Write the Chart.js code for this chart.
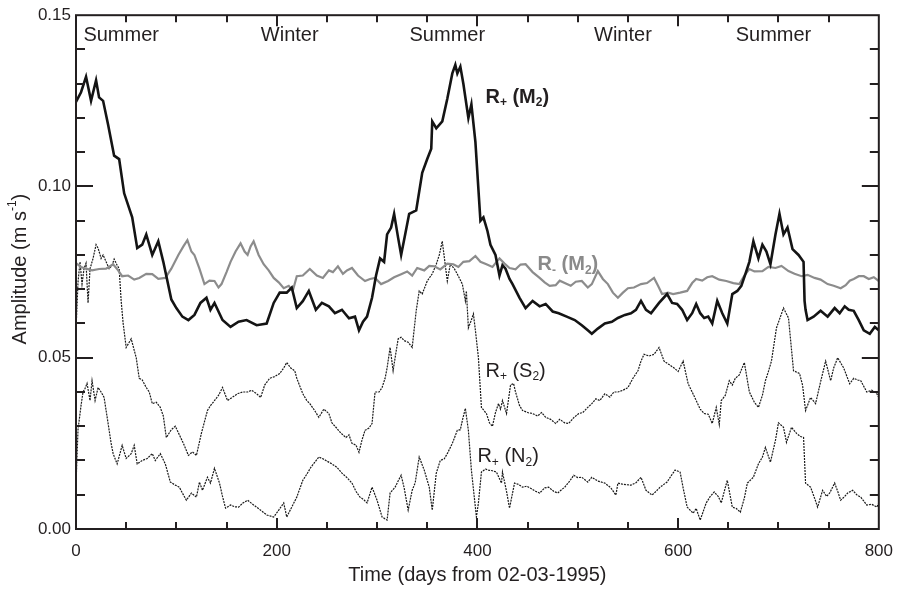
<!DOCTYPE html>
<html>
<head>
<meta charset="utf-8">
<script src="https://cdn.jsdelivr.net/npm/chart.js@4.4.0/dist/chart.umd.min.js"></script>
<style>
  html, body { margin: 0; padding: 0; background: #fff; overflow: hidden; }
  #wrap { width: 905px; height: 589px; }
  #amplitudeChart { display: block; }
</style>
</head>
<body>
<div id="wrap"><canvas id="amplitudeChart"></canvas></div>
<script>
// R+ (M2), thick black
const m2pDays = [0,5,10,15,20,23,27,32,38,43,48,56,61,66,70,76,82,87,95,100,106,112,118,124,130,134,138,146,154,162,170,180,190,197,203,210,215,220,226,232,239,245,252,258,265,272,278,282,286,290,295,299,303,307,310,314,317,321,324,328,332,339,345,350,354,355,359,365,370,375,378,380,383,386,391,394,398,403,406,410,413,418,422,425,428,432,435,442,448,455,462,468,475,481,489,497,504,510,514,520,527,534,540,547,553,558,563,568,573,581,589,594,599,604,609,614,618,622,626,630,634,639,644,649,654,659,663,667,671,675,680,684,688,692,697,701,705,709,714,720,725,726,727,729,735,742,749,756,761,766,770,775,780,785,791,796,800];
const m2pAmp = [0.1247,0.1275,0.132,0.125,0.131,0.126,0.125,0.118,0.109,0.108,0.098,0.091,0.082,0.083,0.086,0.080,0.084,0.078,0.067,0.0645,0.062,0.061,0.0625,0.066,0.0675,0.064,0.066,0.061,0.059,0.0605,0.061,0.0595,0.060,0.066,0.069,0.069,0.0705,0.0645,0.0665,0.0695,0.064,0.066,0.065,0.063,0.064,0.0615,0.062,0.058,0.0605,0.062,0.0675,0.074,0.079,0.078,0.086,0.088,0.092,0.085,0.080,0.086,0.092,0.093,0.104,0.108,0.111,0.119,0.117,0.119,0.1256,0.133,0.1355,0.133,0.135,0.130,0.120,0.124,0.113,0.090,0.091,0.087,0.083,0.080,0.074,0.077,0.076,0.073,0.0715,0.0675,0.0645,0.0666,0.065,0.0657,0.0635,0.063,0.062,0.061,0.0595,0.058,0.057,0.0585,0.060,0.0605,0.0616,0.0625,0.063,0.064,0.0666,0.064,0.063,0.066,0.0686,0.066,0.0657,0.064,0.061,0.063,0.0657,0.063,0.0616,0.062,0.060,0.0666,0.063,0.060,0.0686,0.0695,0.071,0.0744,0.078,0.084,0.079,0.083,0.081,0.0773,0.086,0.092,0.086,0.088,0.0817,0.080,0.078,0.0666,0.064,0.061,0.062,0.0637,0.062,0.0645,0.063,0.065,0.064,0.0637,0.061,0.058,0.057,0.059,0.058];

// R- (M2), grey
const m2mDays = [0,5,10,16,23,30,37,42,46,52,58,63,70,76,82,89,95,102,107,111,115,118,123,128,133,138,142,145,150,154,159,164,168,171,174,177,182,187,192,197,202,207,212,216,220,226,233,240,246,252,256,261,266,270,275,281,288,293,298,304,311,317,324,330,335,340,347,352,357,363,370,376,381,386,392,398,403,409,415,422,427,432,438,443,448,455,462,467,472,478,482,487,493,498,504,510,514,520,525,530,535,540,545,550,556,563,569,576,580,584,590,595,602,609,614,618,624,629,634,641,648,655,661,666,671,676,684,690,697,703,710,716,723,729,736,742,749,755,762,767,771,775,780,785,790,795,800];
const m2mAmp = [0.0776,0.0765,0.076,0.0755,0.0759,0.076,0.0773,0.0755,0.0738,0.074,0.0728,0.0733,0.0745,0.0744,0.073,0.0733,0.076,0.080,0.0825,0.0843,0.081,0.080,0.076,0.0715,0.0725,0.0724,0.0705,0.0715,0.075,0.078,0.081,0.0834,0.081,0.080,0.0825,0.084,0.080,0.0773,0.0755,0.0733,0.072,0.0703,0.071,0.0695,0.0738,0.074,0.0759,0.074,0.0733,0.0755,0.075,0.0767,0.0745,0.0755,0.0762,0.074,0.0724,0.073,0.0733,0.0715,0.0724,0.0735,0.0744,0.0752,0.074,0.0762,0.0755,0.0768,0.0767,0.0758,0.0775,0.0773,0.0765,0.078,0.0782,0.0797,0.078,0.0773,0.0765,0.079,0.0775,0.0762,0.0758,0.0772,0.0773,0.075,0.0733,0.072,0.071,0.0712,0.0725,0.0718,0.071,0.0722,0.0724,0.0705,0.0715,0.0753,0.073,0.0715,0.069,0.0675,0.069,0.0703,0.0705,0.0715,0.0718,0.0733,0.071,0.0686,0.069,0.0686,0.069,0.0695,0.0718,0.073,0.0725,0.0735,0.0738,0.0728,0.0724,0.0718,0.0715,0.074,0.0759,0.0752,0.0753,0.0765,0.0762,0.0768,0.0753,0.0745,0.0738,0.0742,0.0733,0.0728,0.0715,0.071,0.0703,0.0712,0.0725,0.073,0.0738,0.0738,0.073,0.0735,0.0724];

// R+ (S2), dotted
const s2Days = [0,2,4,6,8,10,12,14,17,20,22,25,27,30,33,36,38,41,43,45,47,50,55,60,63,66,70,73,76,80,84,87,90,95,99,103,107,112,116,120,125,131,134,138,142,146,151,156,161,166,171,175,180,184,188,193,198,203,207,210,214,218,220,226,230,233,238,242,247,252,255,259,264,269,272,275,279,282,285,288,292,295,298,302,305,308,310,313,316,318,321,324,327,331,335,339,342,345,350,355,359,362,365,368,370,373,377,380,385,388,389,391,394,396,398,401,404,409,412,415,418,421,423,425,429,433,436,438,442,445,450,455,460,464,468,473,478,482,487,491,496,501,505,510,514,518,522,527,532,536,540,545,550,555,560,563,566,571,576,581,586,591,596,600,605,610,614,618,622,626,630,634,638,641,643,647,651,654,657,661,666,671,676,680,684,687,690,693,698,702,705,710,715,721,724,727,732,737,742,747,752,755,759,765,771,775,779,782,788,793,798,800];
const s2Amp = [0.058,0.072,0.078,0.0715,0.076,0.0776,0.066,0.076,0.079,0.083,0.082,0.079,0.080,0.078,0.076,0.077,0.0788,0.077,0.076,0.0666,0.060,0.053,0.0555,0.050,0.044,0.0435,0.0413,0.040,0.0366,0.037,0.0355,0.033,0.0267,0.029,0.030,0.0275,0.025,0.0215,0.0225,0.0215,0.028,0.0346,0.036,0.0375,0.039,0.0413,0.0375,0.0385,0.0395,0.040,0.040,0.0405,0.0395,0.0384,0.042,0.044,0.0445,0.0454,0.047,0.0486,0.047,0.0462,0.044,0.0395,0.0375,0.0366,0.0345,0.0326,0.035,0.0337,0.031,0.0297,0.028,0.0267,0.0275,0.025,0.0245,0.0224,0.026,0.0288,0.0295,0.0308,0.040,0.040,0.0413,0.044,0.047,0.053,0.0462,0.050,0.0555,0.056,0.055,0.0545,0.053,0.0637,0.0695,0.0686,0.0724,0.0745,0.0773,0.080,0.084,0.077,0.0724,0.0773,0.076,0.0744,0.0715,0.0666,0.0695,0.0587,0.061,0.0628,0.058,0.050,0.0355,0.0337,0.031,0.030,0.034,0.0366,0.035,0.0375,0.0337,0.042,0.0425,0.040,0.036,0.0346,0.034,0.0337,0.033,0.034,0.0326,0.032,0.0308,0.032,0.031,0.0308,0.0325,0.0337,0.034,0.0355,0.0366,0.038,0.0375,0.0395,0.0385,0.040,0.040,0.0405,0.0413,0.044,0.0462,0.049,0.051,0.0505,0.051,0.053,0.049,0.048,0.047,0.046,0.049,0.0424,0.040,0.0375,0.035,0.0337,0.0335,0.0308,0.0355,0.0305,0.0375,0.039,0.0433,0.042,0.044,0.045,0.0486,0.040,0.037,0.0355,0.039,0.0433,0.046,0.049,0.0587,0.062,0.0645,0.0616,0.0462,0.0454,0.042,0.0346,0.0384,0.0366,0.043,0.049,0.0433,0.047,0.050,0.047,0.0424,0.044,0.0435,0.0433,0.040,0.0405,0.0395,0.0384];

// R+ (N2), dotted
const n2Days = [0,2,5,7,9,11,14,16,19,22,25,28,32,35,37,41,46,50,55,58,61,66,71,76,79,84,89,94,99,103,106,110,115,120,123,126,131,134,138,143,146,149,154,158,162,166,171,177,184,190,197,202,207,210,215,220,226,230,234,238,242,246,249,255,260,265,270,275,279,283,287,290,295,300,305,310,313,318,321,324,327,331,335,338,342,347,352,355,359,363,367,370,375,380,383,385,388,391,394,397,399,401,404,408,411,415,419,424,425,429,432,437,441,445,449,453,458,462,467,471,476,480,484,487,492,496,500,504,510,514,520,527,533,538,540,546,553,558,563,568,574,578,582,589,593,597,602,605,609,615,618,622,628,632,636,640,643,646,649,654,658,662,666,669,675,680,684,687,692,697,700,705,708,713,718,722,725,727,732,736,739,744,748,751,756,759,762,766,769,774,778,782,788,793,798,800];
const n2Amp = [0.013,0.029,0.036,0.040,0.041,0.0425,0.0375,0.0433,0.0375,0.0413,0.040,0.0384,0.0308,0.025,0.022,0.019,0.0244,0.0206,0.022,0.0244,0.019,0.020,0.0206,0.022,0.020,0.022,0.019,0.0137,0.0128,0.0122,0.0105,0.0084,0.0105,0.0093,0.0137,0.0113,0.0151,0.0134,0.0177,0.0134,0.0095,0.0061,0.007,0.0065,0.0064,0.0075,0.0084,0.007,0.0055,0.0041,0.0035,0.0055,0.0076,0.0035,0.0064,0.0093,0.0142,0.016,0.018,0.0195,0.021,0.0205,0.020,0.019,0.018,0.0163,0.015,0.0134,0.011,0.0093,0.0085,0.0076,0.0122,0.0084,0.0035,0.0026,0.0105,0.0122,0.014,0.0157,0.012,0.0055,0.0113,0.0135,0.021,0.0172,0.0122,0.0055,0.0163,0.020,0.0205,0.022,0.025,0.0288,0.029,0.0317,0.0352,0.0288,0.0172,0.009,0.0035,0.0076,0.0166,0.0175,0.0172,0.017,0.0166,0.0134,0.0166,0.011,0.0061,0.0134,0.013,0.0122,0.0125,0.0119,0.011,0.0105,0.012,0.0122,0.011,0.0105,0.0115,0.0122,0.014,0.0157,0.015,0.0151,0.0137,0.0151,0.014,0.0134,0.012,0.0099,0.0134,0.013,0.0128,0.0135,0.0151,0.0113,0.0099,0.011,0.0122,0.0137,0.0155,0.0172,0.0166,0.012,0.0064,0.0046,0.006,0.0026,0.0076,0.0095,0.0108,0.0095,0.0076,0.011,0.0142,0.0064,0.006,0.0049,0.009,0.0134,0.0151,0.019,0.021,0.0238,0.0195,0.0259,0.031,0.0297,0.0253,0.0297,0.0279,0.027,0.0267,0.0134,0.0122,0.009,0.0064,0.0113,0.0095,0.0105,0.0134,0.011,0.0084,0.0095,0.0105,0.0113,0.010,0.0093,0.007,0.0072,0.0064,0.0076];

const seasonNames = ['Summer', 'Winter', 'Summer', 'Winter', 'Summer'];
const seasonDays = [45, 213, 370, 545, 695];

const xTickLabels = [0, 200, 400, 600, 800];
const yTickLabels = [0, 0.05, 0.10, 0.15];

const FONT = "'Liberation Sans', Arial, Helvetica, sans-serif";
const INK = '#231f20';

function toPoints(days, amp) {
    if (days.length !== amp.length) throw new Error('length mismatch ' + days.length + ' vs ' + amp.length);
    return days.map((d, i) => ({ x: d, y: amp[i] }));
}

// text with subscripts / superscripts: parts = [[text, shift]], shift 0 normal, 1 sub, -1 sup
function partsWidth(ctx, parts, size, weight) {
    let w = 0;
    parts.forEach(([t, s]) => {
        ctx.font = `${weight} ${s ? Math.round(size * 0.6) : size}px ${FONT}`;
        w += ctx.measureText(t).width;
    });
    return w;
}
function drawParts(ctx, parts, x, y, size, weight) {
    parts.forEach(([t, s]) => {
        const fs = s ? Math.round(size * 0.6) : size;
        ctx.font = `${weight} ${fs}px ${FONT}`;
        const dy = s === 1 ? size * 0.18 : (s === -1 ? -size * 0.38 : 0);
        ctx.fillText(t, x, y + dy);
        x += ctx.measureText(t).width;
    });
}

const seriesLabels = [
    { parts: [['R', 0], ['+', 1], [' (M', 0], ['2', 1], [')', 0]], day: 408, amp: 0.1265, weight: 'bold', color: INK },
    { parts: [['R', 0], ['-', 1], [' (M', 0], ['2', 1], [')', 0]], day: 460, amp: 0.0776, weight: 'bold', color: '#8a8a8a' },
    { parts: [['R', 0], ['+', 1], [' (S', 0], ['2', 1], [')', 0]], day: 408, amp: 0.0465, weight: 'normal', color: INK },
    { parts: [['R', 0], ['+', 1], [' (N', 0], ['2', 1], [')', 0]], day: 400, amp: 0.0215, weight: 'normal', color: INK }
];

const frameAndText = {
    id: 'frameAndText',
    afterDatasetsDraw(chart) {
        const { ctx, chartArea: a, scales: { x, y } } = chart;
        ctx.save();

        // frame
        ctx.strokeStyle = INK;
        ctx.lineWidth = 2;
        ctx.strokeRect(a.left, a.top, a.right - a.left, a.bottom - a.top);

        // inward tick marks
        ctx.beginPath();
        for (let d = 50; d < 800; d += 50) {
            const px = Math.round(x.getPixelForValue(d));
            const len = d % 200 === 0 ? 11 : 7;
            ctx.moveTo(px, a.bottom); ctx.lineTo(px, a.bottom - len);
            ctx.moveTo(px, a.top); ctx.lineTo(px, a.top + len);
        }
        for (let k = 1; k < 15; k++) {
            const py = Math.round(y.getPixelForValue(k / 100));
            const len = k % 5 === 0 ? 17 : 9;
            ctx.moveTo(a.left, py); ctx.lineTo(a.left + len, py);
            ctx.moveTo(a.right, py); ctx.lineTo(a.right - len, py);
        }
        ctx.stroke();

        // season labels
        ctx.fillStyle = INK;
        ctx.textAlign = 'center';
        ctx.textBaseline = 'middle';
        ctx.font = `20px ${FONT}`;
        seasonNames.forEach((name, i) => {
            ctx.fillText(name, x.getPixelForValue(seasonDays[i]), a.top + 20);
        });

        // series labels
        ctx.textAlign = 'left';
        ctx.textBaseline = 'alphabetic';
        seriesLabels.forEach(l => {
            ctx.fillStyle = l.color;
            drawParts(ctx, l.parts, x.getPixelForValue(l.day), y.getPixelForValue(l.amp) + 7, 20, l.weight);
        });

        // y axis title
        const yTitle = [['Amplitude (m s', 0], ['-1', -1], [')', 0]];
        ctx.fillStyle = INK;
        ctx.translate(20, (a.top + a.bottom) / 2 - 3);
        ctx.rotate(-Math.PI / 2);
        ctx.textBaseline = 'middle';
        const w = partsWidth(ctx, yTitle, 20, 'normal');
        drawParts(ctx, yTitle, -w / 2, 0, 20, 'normal');

        ctx.restore();
    }
};

const lineBase = { pointRadius: 0, tension: 0, fill: false };

new Chart(document.getElementById('amplitudeChart'), {
    type: 'line',
    data: {
        datasets: [
            { ...lineBase, label: 'R+ (M2)', data: toPoints(m2pDays, m2pAmp), borderColor: '#141414', borderWidth: 2.6, order: 0 },
            { ...lineBase, label: 'R- (M2)', data: toPoints(m2mDays, m2mAmp), borderColor: '#8c8c8c', borderWidth: 2.2, order: 1 },
            { ...lineBase, label: 'R+ (S2)', data: toPoints(s2Days, s2Amp), borderColor: '#1a1a1a', borderWidth: 1.2, borderDash: [2, 1], order: 2 },
            { ...lineBase, label: 'R+ (N2)', data: toPoints(n2Days, n2Amp), borderColor: '#1a1a1a', borderWidth: 1.2, borderDash: [2, 1], order: 3 }
        ]
    },
    options: {
        responsive: true,
        maintainAspectRatio: false,
        animation: false,
        devicePixelRatio: 1,
        layout: { padding: { left: 0, right: 13, top: 13, bottom: 0 } },
        plugins: { legend: { display: false }, tooltip: { enabled: false } },
        scales: {
            x: {
                type: 'linear',
                min: 0,
                max: 800,
                afterFit: s => { s.height = 60; },
                afterBuildTicks: s => { s.ticks = xTickLabels.map(v => ({ value: v })); },
                grid: { display: false, drawTicks: false },
                border: { display: false },
                ticks: { font: { size: 17, family: FONT }, color: INK, padding: 12, maxRotation: 0 },
                title: {
                    display: true,
                    text: 'Time (days from 02-03-1995)',
                    font: { size: 20, family: FONT },
                    color: INK,
                    padding: { top: 0, bottom: 2 }
                }
            },
            y: {
                min: 0,
                max: 0.15,
                afterFit: s => { s.width = 76; },
                afterBuildTicks: s => { s.ticks = yTickLabels.map(v => ({ value: v })); },
                grid: { display: false, drawTicks: false },
                border: { display: false },
                ticks: {
                    font: { size: 17, family: FONT },
                    color: INK,
                    padding: 5,
                    callback: v => v.toFixed(2)
                }
            }
        }
    },
    plugins: [frameAndText]
});
</script>
</body>
</html>
